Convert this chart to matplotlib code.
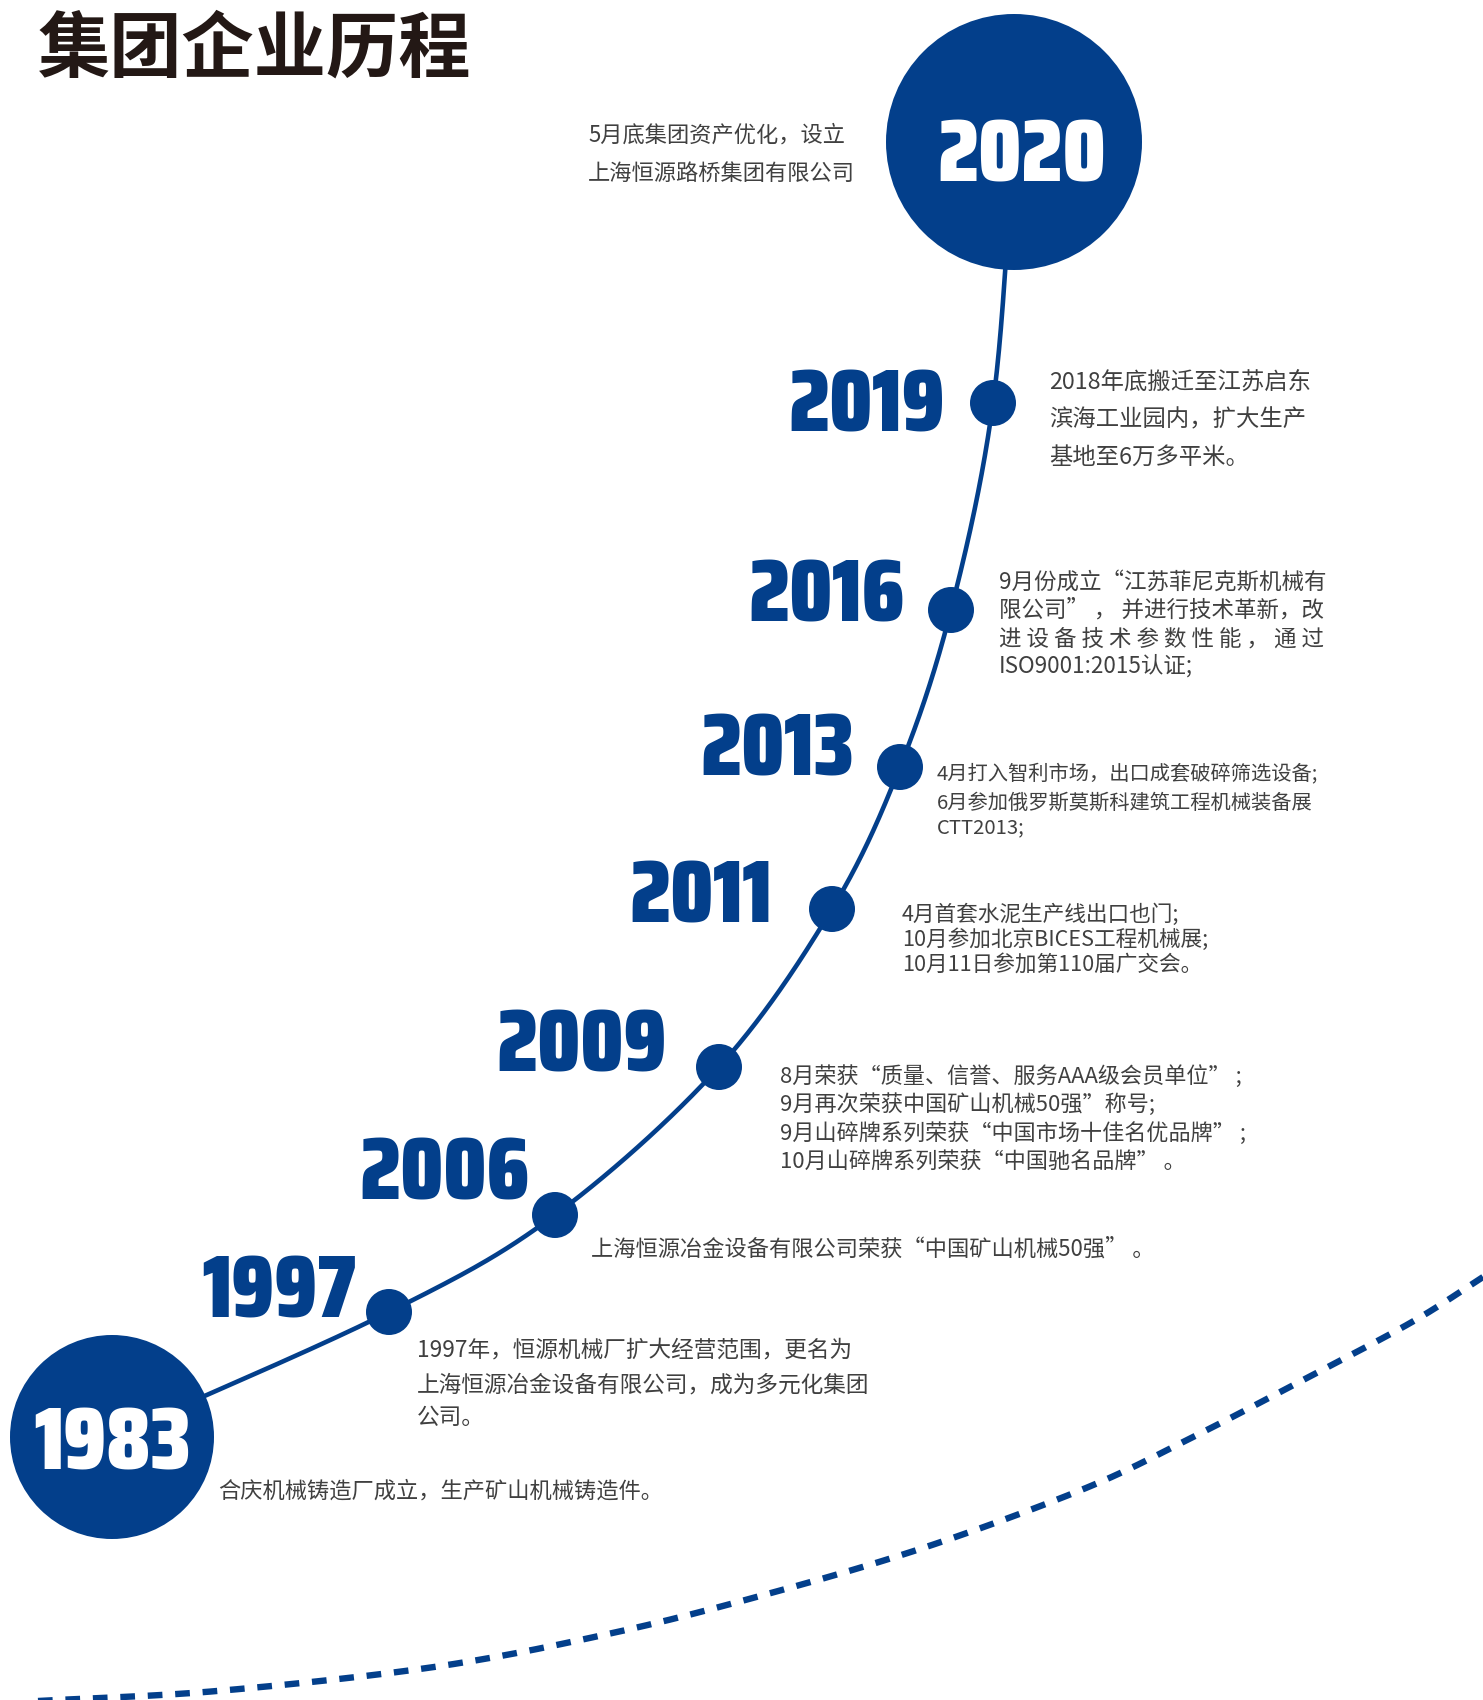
import numpy as np
import matplotlib
matplotlib.use("Agg")
import matplotlib.pyplot as plt
from matplotlib.patches import Circle
from matplotlib import font_manager
from matplotlib.font_manager import FontProperties
from matplotlib.textpath import TextPath

plt.rcParams['font.family'] = ['Noto Sans CJK SC', 'Noto Sans CJK JP', 'DejaVu Sans']

# ---------------- data ----------------
title = "集团企业历程"
years = ["1983", "1997", "2006", "2009", "2011", "2013", "2016", "2019", "2020"]
desc_1983 = ["合庆机械铸造厂成立，生产矿山机械铸造件。"]
desc_1997 = ["1997年，恒源机械厂扩大经营范围，更名为",
             "上海恒源冶金设备有限公司，成为多元化集团",
             "公司。"]
desc_2006 = ["上海恒源冶金设备有限公司荣获“中国矿山机械50强” 。"]
desc_2009 = ["8月荣获“质量、信誉、服务AAA级会员单位” ;",
             "9月再次荣获中国矿山机械50强”称号;",
             "9月山碎牌系列荣获“中国市场十佳名优品牌” ;",
             "10月山碎牌系列荣获“中国驰名品牌” 。"]
desc_2011 = ["4月首套水泥生产线出口也门;",
             "10月参加北京BICES工程机械展;",
             "10月11日参加第110届广交会。"]
desc_2013 = ["4月打入智利市场，出口成套破碎筛选设备;",
             "6月参加俄罗斯莫斯科建筑工程机械装备展",
             "CTT2013;"]
desc_2016 = ["9月份成立“江苏菲尼克斯机械有",
             "限公司” ， 并进行技术革新，改",
             "进 设 备 技 术 参 数 性 能 ， 通 过",
             "ISO9001:2015认证;"]
desc_2019 = ["2018年底搬迁至江苏启东",
             "滨海工业园内，扩大生产",
             "基地至6万多平米。"]
desc_2020 = ["5月底集团资产优化，设立",
             "上海恒源路桥集团有限公司"]
descriptions = [desc_1983, desc_1997, desc_2006, desc_2009, desc_2011,
                desc_2013, desc_2016, desc_2019, desc_2020]

# ---------------- layout (pixel coordinates) ----------------
W, H = 1483, 1700
node_xy = [(112, 1437), (389, 1312), (555, 1215), (719, 1067), (832, 909),
           (900, 767), (951, 610), (993, 403), (1014, 142)]
node_r = [102, 23, 23, 23, 23, 23, 23, 23, 128]
# year label anchor: (x, baseline y, ha)
label_pos = [(113, 1469, 'center'), (356, 1317, 'right'), (530, 1200, 'right'),
             (667, 1071, 'right'), (772, 922, 'right'), (854, 775, 'right'),
             (905, 622, 'right'), (945, 431, 'right'), (1022, 181, 'center')]
label_white = [True, False, False, False, False, False, False, False, True]
desc_x = [218, 417, 591, 780, 902, 937, 999, 1049, 588]
desc_y = [[1491], [1350, 1385, 1418], [1249], [1077, 1105, 1134, 1163],
          [915, 940, 965], [775, 803, 828], [582, 610, 639, 666],
          [382, 420, 457], [135, 173]]
desc_fs = [16.0, 16.3, 16.0, 15.9, 15.6, 14.6, 16.2, 16.8, 16.0]
dash_pts = [(38, 1701), (217, 1691), (434, 1667), (608, 1634), (760, 1596),
            (923, 1548), (1086, 1488), (1195, 1436), (1303, 1380), (1412, 1322),
            (1483, 1277)]

BLUE = '#033f8b'
GREY = '#404040'
YEAR_INK_H = 63      # px height of year digits
YEAR_ASPECT = 153 / 63  # ink width / height of "2019"

names = {f.name for f in font_manager.fontManager.ttflist}
candidates = [('Anton', 400), ('Fira Sans Extra Condensed', 900), ('Barlow Condensed', 900),
              ('Fira Sans Condensed', 900), ('Saira Condensed', 900),
              ('Saira ExtraCondensed', 900), ('Encode Sans Condensed', 900),
              ('Asap Condensed', 900), ('Barlow Semi Condensed', 900),
              ('Encode Sans Semi Condensed', 900), ('Roboto Condensed', 700),
              ('DejaVu Sans', 700)]
best = None
for fam, wt in candidates:
    if fam not in names:
        continue
    fp = FontProperties(family=fam, weight=wt, size=100)
    try:
        e = TextPath((0, 0), "2019", prop=fp).get_extents()
    except Exception:
        continue
    score = abs(e.width / e.height - YEAR_ASPECT)
    if best is None or score < best[0]:
        best = (score, fp, e)
_, year_fp, _ext = best
year_fs = YEAR_INK_H * 72.0 / _ext.height


def catmull(points, n=60):
    P = np.asarray(points, float)
    P = np.vstack([2 * P[0] - P[1], P, 2 * P[-1] - P[-2]])
    out = []
    for i in range(1, len(P) - 2):
        p0, p1, p2, p3 = P[i - 1], P[i], P[i + 1], P[i + 2]
        t = np.linspace(0, 1, n, endpoint=False)[:, None]
        seg = 0.5 * ((2 * p1) + (-p0 + p2) * t + (2 * p0 - 5 * p1 + 4 * p2 - p3) * t ** 2
                     + (-p0 + 3 * p1 - 3 * p2 + p3) * t ** 3)
        out.append(seg)
    out.append(P[-2][None])
    return np.vstack(out)


fig = plt.figure(figsize=(W / 100, H / 100), dpi=100)
ax = fig.add_axes([0, 0, 1, 1])
ax.set_xlim(0, W)
ax.set_ylim(H, 0)
ax.axis('off')

# dashed arc
d = catmull(dash_pts)
ax.plot(d[:, 0], d[:, 1], color=BLUE, lw=4.6, linestyle=(0, (2.3, 2.0)),
        solid_capstyle='butt', dash_capstyle='butt', zorder=1)

# timeline curve
c = catmull(node_xy)
ax.plot(c[:, 0], c[:, 1], color=BLUE, lw=3.3, zorder=2, solid_capstyle='round')

# nodes
for (x, y), r in zip(node_xy, node_r):
    ax.add_patch(Circle((x, y), r, color=BLUE, zorder=3, lw=0))

# year labels
yp = year_fp.copy()
yp.set_size(year_fs)
for yr, (x, y, ha), white in zip(years, label_pos, label_white):
    ax.text(x, y, yr, ha=ha, va='baseline', fontproperties=yp,
            color=('white' if white else BLUE), zorder=4)

# descriptions
for lines, x, ys, fs in zip(descriptions, desc_x, desc_y, desc_fs):
    for line, y in zip(lines, ys):
        ax.text(x, y, line, ha='left', va='center', fontsize=fs,
                fontweight=350, color=GREY, zorder=4)

# title
ax.text(38, 50, title, ha='left', va='center', fontsize=52,
        fontweight='black', color='#231815', zorder=4)

fig.savefig('out.png', dpi=100, facecolor='white')
